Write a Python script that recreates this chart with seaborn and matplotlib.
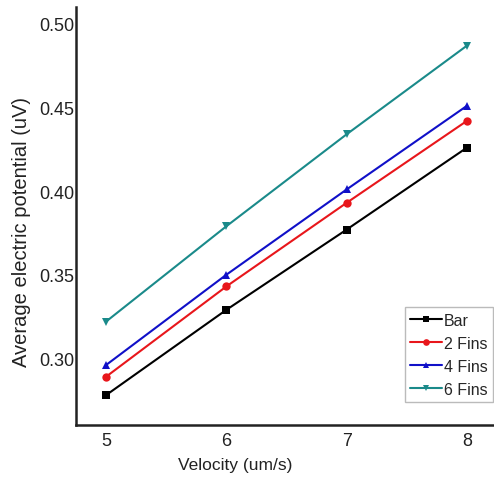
import matplotlib
matplotlib.use("Agg")
import matplotlib.pyplot as plt
import seaborn as sns
import pandas as pd

velocity = [5, 6, 7, 8]
bar = [0.278, 0.329, 0.377, 0.426]
fins2 = [0.289, 0.343, 0.393, 0.442]
fins4 = [0.296, 0.350, 0.401, 0.451]
fins6 = [0.322, 0.379, 0.434, 0.487]
series_names = ["Bar", "2 Fins", "4 Fins", "6 Fins"]
colors = ["#000000", "#e8161b", "#1010c8", "#1a8a8a"]
markers = ["s", "o", "^", "v"]

rows = []
for name, vals in zip(series_names, [bar, fins2, fins4, fins6]):
    for v, y in zip(velocity, vals):
        rows.append({"Velocity": v, "Potential": y, "Series": name})
df = pd.DataFrame(rows)

sns.set_style("white")
plt.rcParams["font.family"] = ["Liberation Sans", "DejaVu Sans"]

fig = plt.figure(figsize=(4.94, 4.81), dpi=100)
ax = fig.add_axes([0.154, 0.114, 0.846, 0.869])
sns.lineplot(data=df, x="Velocity", y="Potential", hue="Series", style="Series",
             hue_order=series_names, style_order=series_names,
             palette=colors, markers=markers, dashes=False, markersize=6,
             markeredgewidth=0, linewidth=1.5, ax=ax)

ax.set_xlim(4.75, 8.225)
ax.set_ylim(0.26, 0.51)
ax.set_xticks(velocity)
ax.set_yticks([0.30, 0.35, 0.40, 0.45, 0.50])
ax.set_yticklabels(["0.30", "0.35", "0.40", "0.45", "0.50"])
ax.tick_params(axis="both", length=0, labelsize=13, colors="#222222")
ax.tick_params(axis="y", pad=1)
ax.tick_params(axis="x", pad=5)
for s in ["top", "right"]:
    ax.spines[s].set_visible(False)
for s in ["left", "bottom"]:
    ax.spines[s].set_color("#222222")
    ax.spines[s].set_linewidth(1.8)
ax.set_xlabel("Velocity (um/s)", fontsize=12.5, color="#222222")
ax.set_ylabel("Average electric potential (uV)", fontsize=14.5, color="#222222")
ax.xaxis.set_label_coords(0.38, -0.077)
ax.yaxis.set_label_coords(-0.108, 0.465)

leg = ax.legend(loc="lower right", bbox_to_anchor=(0.998, 0.055), fontsize=11.5,
                frameon=True, fancybox=False, handlelength=2.0, handletextpad=0.1,
                borderpad=0.35, labelspacing=0.5, borderaxespad=0, markerscale=0.8)
leg.get_frame().set_edgecolor("#aaaaaa")
leg.get_frame().set_linewidth(1.0)

fig.savefig("out.png", dpi=100)
